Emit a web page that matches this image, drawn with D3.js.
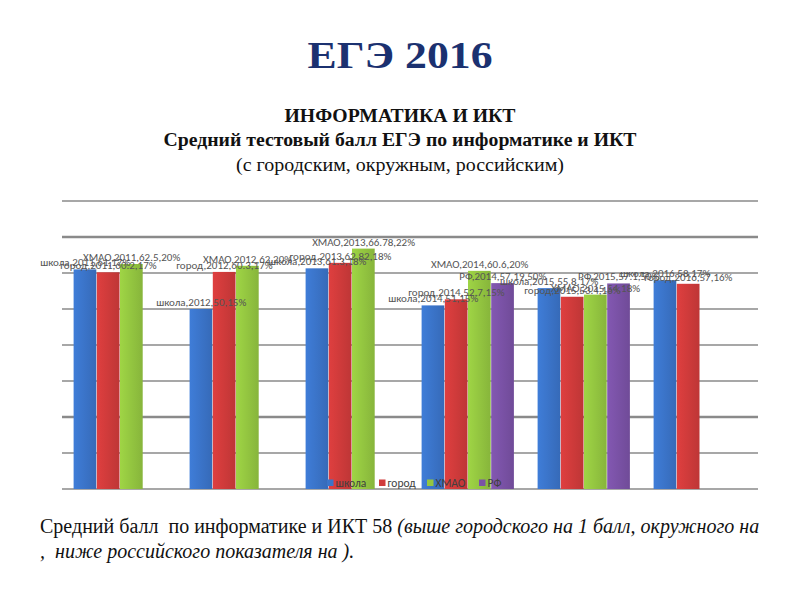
<!DOCTYPE html>
<html>
<head>
<meta charset="utf-8">
<script src="https://cdn.jsdelivr.net/npm/d3@7"></script>
<style>
  html, body { margin: 0; padding: 0; background: #fff; }
  svg { display: block; }
</style>
</head>
<body>
<svg id="chart" width="800" height="600"></svg>
<script>
const years = ["2011", "2012", "2013", "2014", "2015", "2016"];
const seriesNames = ["школа", "город", "ХМАО", "РФ"];
const schoolValues = [61, 50, 61.3, 51, 55.8, 58];
const cityValues = [60.2, 60.3, 62.82, 52.7, 53.4, 57];
const hmaoValues = [62.5, 62, 66.78, 60.6, 54, null];
const rfValues = [null, null, null, 57.19, 57.1, null];
const schoolPct = ["17%", "15%", "18%", "15%", "17%", "17%"];
const cityPct = ["17%", "17%", "18%", "15%", "16%", "16%"];
const hmaoPct = ["20%", "20%", "22%", "20%", "18%", null];
const rfPct = [null, null, null, "50%", "50%", null];
const yTicks = [0, 10, 20, 30, 40, 50, 60, 70, 80];
const colors = ["#3B74C9", "#D03B3B", "#94C640", "#7A52A6"];

const seriesValues = [schoolValues, cityValues, hmaoValues, rfValues];
const seriesPct = [schoolPct, cityPct, hmaoPct, rfPct];

const svg = d3.select("#chart");
const SERIF = "'Liberation Serif', 'Times New Roman', serif";
const SANS = "Carlito, 'Liberation Sans', Arial, sans-serif";

// Titles
function title(txt, yPos, size, len, bold, color) {
  svg.append("text").attr("x", 400).attr("y", yPos).attr("text-anchor", "middle")
    .attr("font-family", SERIF).attr("font-weight", bold ? "bold" : "normal")
    .attr("font-size", size).attr("fill", color)
    .attr("textLength", len).attr("lengthAdjust", "spacingAndGlyphs")
    .text(txt);
}
title("ЕГЭ 2016", 68, 38, 185, true, "#1B3170");
title("ИНФОРМАТИКА И ИКТ", 122, 18.5, 231, true, "#111");
title("Средний тестовый балл ЕГЭ по информатике и ИКТ", 146, 18.5, 473, true, "#111");
title("(с городским, окружным, российским)", 171, 18.5, 328, false, "#111");

// Scales
const x0 = d3.scaleBand().domain(years).range([62, 758]).paddingInner(0.2).paddingOuter(0.1);
const x1 = d3.scaleBand().domain(seriesNames).range([0, x0.bandwidth()]);
const y = d3.scaleLinear().domain([0, 80]).range([489, 201]);

// Gradients
const defs = svg.append("defs");
colors.forEach((c, i) => {
  const g = defs.append("linearGradient").attr("id", "g" + i).attr("x1", 0).attr("x2", 1).attr("y1", 0).attr("y2", 0);
  g.append("stop").attr("offset", "0%").attr("stop-color", d3.color(c).brighter(0.2));
  g.append("stop").attr("offset", "100%").attr("stop-color", d3.color(c).darker(0.25));
});

// Gridlines
svg.append("g").selectAll("line").data(yTicks).join("line")
  .attr("x1", 62).attr("x2", 758)
  .attr("y1", d => y(d)).attr("y2", d => y(d))
  .attr("stroke", "#8a8a8a").attr("stroke-width", d => (d === 20 || d === 70) ? 2.4 : 1.6);

// Bars
const barData = [];
years.forEach((yr, i) => {
  seriesNames.forEach((s, j) => {
    const v = seriesValues[j][i];
    if (v != null) barData.push({ year: yr, series: s, idx: j, value: v, pct: seriesPct[j][i] });
  });
});

svg.append("g").selectAll("rect").data(barData).join("rect")
  .attr("x", d => x0(d.year) + x1(d.series))
  .attr("width", x1.bandwidth() - 0.5)
  .attr("y", d => y(d.value))
  .attr("height", d => y(0) - y(d.value))
  .attr("fill", d => `url(#g${d.idx})`);

// Legend
const legendX = [327, 379, 427, 479];
const lg = svg.append("g");
seriesNames.forEach((s, j) => {
  lg.append("rect").attr("x", legendX[j]).attr("y", 479.5).attr("width", 6.5).attr("height", 6.5).attr("fill", colors[j]);
  lg.append("text").attr("x", legendX[j] + 8.5).attr("y", 487)
    .attr("font-family", SANS).attr("font-size", 11.5)
    .attr("fill", "#404040").text(s);
});

// Data labels
svg.append("g").selectAll("text").data(barData).join("text")
  .attr("x", d => x0(d.year) + x1(d.series) + x1.bandwidth() / 2)
  .attr("y", d => y(d.value) - 3)
  .attr("text-anchor", "middle")
  .attr("font-family", SANS).attr("font-size", 11)
  .attr("fill", "#555")
  .text(d => `${d.series},${d.year},${d.value},${d.pct}`);

// Bottom text
const bt = svg.append("text").attr("x", 40).attr("y", 533)
  .attr("font-family", SERIF).attr("font-size", 20).attr("fill", "#111")
  .attr("xml:space", "preserve");
bt.append("tspan").text("Средний балл  по информатике и ИКТ 58 ");
bt.append("tspan").attr("font-style", "italic").text("(выше городского на 1 балл, окружного на");
svg.append("text").attr("x", 40).attr("y", 558)
  .attr("font-family", SERIF).attr("font-size", 20)
  .attr("font-style", "italic").attr("fill", "#111").attr("xml:space", "preserve")
  .text(",  ниже российского показателя на ).");
</script>
</body>
</html>
